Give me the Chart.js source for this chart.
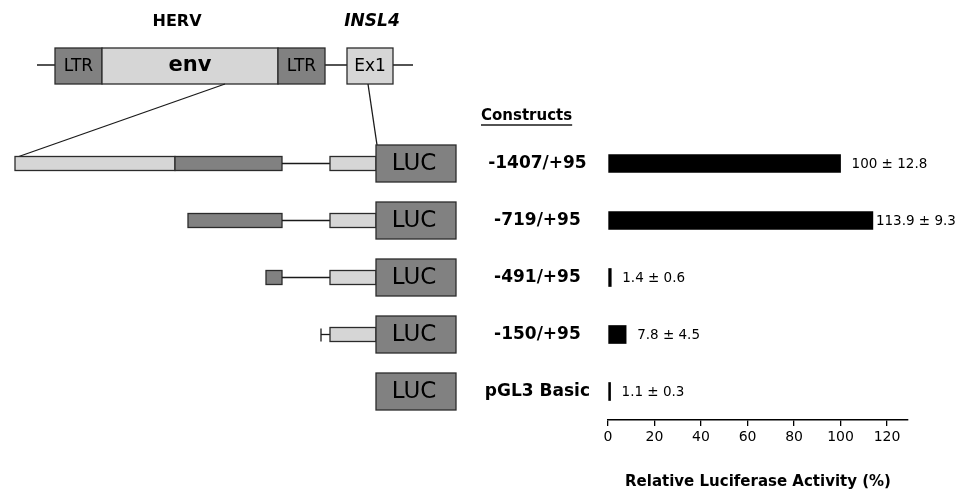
<!DOCTYPE html>
<html><head><meta charset="utf-8">
<script src="https://cdn.jsdelivr.net/npm/chart.js@4.4.1/dist/chart.umd.min.js"></script>
<style>html,body{margin:0;padding:0;background:#fff;}#wrap{width:958px;height:493px;position:relative;background:#fff;}</style>
</head><body><div id="wrap"><canvas id="c"></canvas></div>
<script>
const constructs = ['-1407/+95', '-719/+95', '-491/+95', '-150/+95', 'pGL3 Basic'];
const activity = [100, 113.9, 1.4, 7.8, 1.1];
const errors = [12.8, 9.3, 0.6, 4.5, 0.3];
const xTicks = [0, 20, 40, 60, 80, 100, 120];
const axisTitle = 'Relative Luciferase Activity (%)';
const header = 'Constructs';

const FONT = "'DejaVu Sans', sans-serif";
const DARK = '#818181', LIGHT = '#d6d6d6', EDGE = '#2b2b2b';

// schematic pieces per construct row (decorative diagram)
const rowParts = [
  [['box', 15, 175, LIGHT], ['box', 175, 282, DARK], ['line', 282, 330], ['box', 330, 376, LIGHT]],
  [['box', 188, 282, DARK], ['line', 282, 330], ['box', 330, 376, LIGHT]],
  [['box', 266, 282, DARK], ['line', 282, 330], ['box', 330, 376, LIGHT]],
  [['tee', 321, 330], ['box', 330, 376, LIGHT]],
  []
];

function rect(ctx, x1, y1, x2, y2, fill) {
  ctx.fillStyle = fill;
  ctx.fillRect(x1, y1, x2 - x1, y2 - y1);
  ctx.strokeStyle = EDGE; ctx.lineWidth = 1.3;
  ctx.strokeRect(x1, y1, x2 - x1, y2 - y1);
}
function line(ctx, x1, y1, x2, y2, w) {
  ctx.strokeStyle = '#1a1a1a'; ctx.lineWidth = w || 1.3;
  ctx.beginPath(); ctx.moveTo(x1, y1); ctx.lineTo(x2, y2); ctx.stroke();
}
function txt(ctx, s, x, y, font, align) {
  ctx.fillStyle = '#000'; ctx.font = font;
  ctx.textAlign = align || 'center'; ctx.textBaseline = 'middle';
  ctx.fillText(s, x, y);
}

const schematic = {
  id: 'schematic',
  afterDraw(chart) {
    const ctx = chart.ctx;
    const ys = chart.scales.y;
    ctx.save();
    // genomic map
    txt(ctx, 'HERV', 177, 22, 'bold 16px ' + FONT);
    txt(ctx, 'INSL4', 372, 22, 'italic bold 17px ' + FONT);
    line(ctx, 37, 65, 413, 65);
    rect(ctx, 55, 48, 102, 84, DARK);
    rect(ctx, 102, 48, 278, 84, LIGHT);
    rect(ctx, 278, 48, 325, 84, DARK);
    rect(ctx, 347, 48, 393, 84, LIGHT);
    txt(ctx, 'LTR', 78.5, 67, '17px ' + FONT);
    txt(ctx, 'env', 190, 66, 'bold 21px ' + FONT);
    txt(ctx, 'LTR', 301.5, 67, '17px ' + FONT);
    txt(ctx, 'Ex1', 370, 67, '17px ' + FONT);
    const y0 = ys.getPixelForValue(0);
    line(ctx, 225, 84, 16, y0 - 6);
    line(ctx, 368, 84, 377, y0 - 18.5);
    // constructs
    rowParts.forEach((parts, i) => {
      const cy = ys.getPixelForValue(i);
      parts.forEach(p => {
        if (p[0] === 'box') rect(ctx, p[1], cy - 7, p[2], cy + 7, p[3]);
        else if (p[0] === 'line') line(ctx, p[1], cy, p[2], cy);
        else if (p[0] === 'tee') { line(ctx, p[1], cy - 6, p[1], cy + 7); line(ctx, p[1], cy, p[2], cy); }
      });
      rect(ctx, 376, cy - 18.5, 456, cy + 18.5, DARK);
      txt(ctx, 'LUC', 414, cy + 1, '23px ' + FONT);
    });
    // header
    ctx.font = 'bold 15px ' + FONT;
    const w = ctx.measureText(header).width;
    txt(ctx, header, 481, 116, 'bold 15px ' + FONT, 'left');
    line(ctx, 481, 125, 481 + w, 125, 1.4);
    ctx.restore();
  }
};

const valueLabels = {
  id: 'valueLabels',
  afterDatasetsDraw(chart) {
    const ctx = chart.ctx;
    const meta = chart.getDatasetMeta(0);
    const font = '13.5px ' + FONT;
    ctx.save();
    ctx.font = font;
    meta.data.forEach((el, i) => {
      const s = activity[i] + ' \u00b1 ' + errors[i];
      const w = ctx.measureText(s).width;
      const x = Math.min(el.x + 11, chart.width - 3 - w);
      txt(ctx, s, Math.max(x, el.x + 3), el.y + 1, font, 'left');
    });
    ctx.restore();
  }
};

new Chart(document.getElementById('c'), {
  type: 'bar',
  data: {
    labels: constructs,
    datasets: [{ data: activity, backgroundColor: '#000', borderWidth: 0, barThickness: 18 }]
  },
  options: {
    indexAxis: 'y',
    responsive: true,
    maintainAspectRatio: false,
    animation: false,
    layout: { padding: { left: 470, right: 50, top: 135, bottom: 0 } },
    plugins: { legend: { display: false }, tooltip: { enabled: false } },
    scales: {
      x: {
        min: 0, max: 129,
        afterFit(s) { s.height = 73; },
        afterBuildTicks(s) { s.ticks = xTicks.map(v => ({ value: v })); },
        grid: { drawOnChartArea: false, drawTicks: true, tickLength: 6, color: '#000', lineWidth: 1.3 },
        border: { display: true, color: '#000', width: 1.5 },
        ticks: { color: '#000', font: { family: FONT, size: 14 }, padding: 3, maxRotation: 0 },
        title: { display: true, text: axisTitle, color: '#000', font: { family: FONT, size: 15, weight: 'bold' }, padding: { top: 4, bottom: 2 } }
      },
      y: {
        afterFit(s) { s.width = 138; },
        grid: { display: false, drawTicks: false },
        border: { display: false },
        ticks: { color: '#000', crossAlign: 'center', padding: 18, font: { family: FONT, size: 17, weight: 'bold' } }
      }
    }
  },
  plugins: [schematic, valueLabels]
});
</script>
</body></html>
